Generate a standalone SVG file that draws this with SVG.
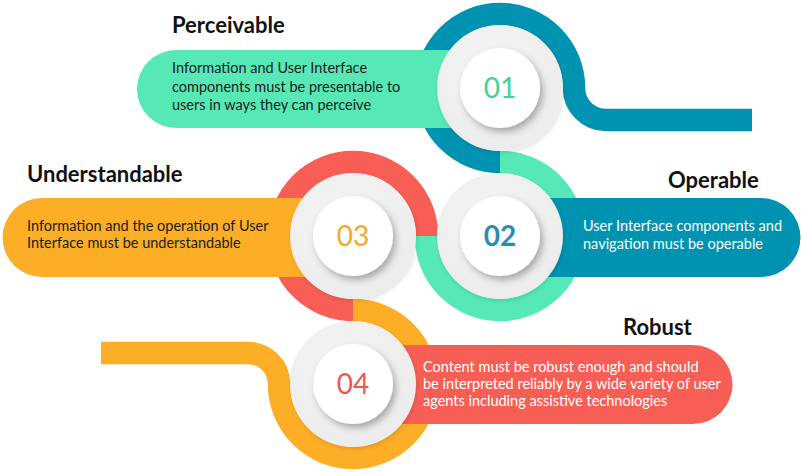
<svg xmlns="http://www.w3.org/2000/svg" width="802" height="474" viewBox="0 0 802 474">
<defs>
<filter id="sh" x="-30%" y="-30%" width="160%" height="160%">
<feDropShadow dx="3" dy="4" stdDeviation="3.5" flood-color="#000" flood-opacity="0.3"/>
</filter>
<filter id="sh2" x="-30%" y="-30%" width="160%" height="160%">
<feDropShadow dx="1" dy="2" stdDeviation="2" flood-color="#000" flood-opacity="0.12"/>
</filter>
<radialGradient id="gg" cx="0.45" cy="0.4" r="0.6">
<stop offset="0" stop-color="#f6f6f6"/>
<stop offset="1" stop-color="#ececec"/>
</radialGradient>
</defs>
<style>
.ring{fill:none;stroke-width:22.5;stroke-linecap:butt}
.outer{fill:url(#gg);filter:url(#sh2)}
.inner{fill:#ffffff;filter:url(#sh)}
.title{font-family:Lato,"Liberation Sans",sans-serif;font-weight:bold;font-size:22px;fill:#111111}
.body{font-family:Lato,"Liberation Sans",sans-serif;font-size:14.5px;fill:#1b1b1b}
.bodyw{font-family:Lato,"Liberation Sans",sans-serif;font-size:14.5px;fill:#ffffff}
.num{font-family:Lato,"Liberation Sans",sans-serif;font-size:28px;text-anchor:middle}
</style>
<rect width="802" height="474" fill="#ffffff"/>
<g id="connectors">
<path class="ring" stroke="#0093b1" d="M500,162 A74,74 0 1 1 574,88 A32,32 0 0 0 606,120 L752,120"/>
<path class="ring" stroke="#56e9b6" d="M500,162 A74,74 0 1 1 426,236"/>
<path class="ring" stroke="#f75f56" d="M427,236 A74,74 0 1 0 353,310"/>
<path class="ring" stroke="#fdae27" d="M353,310 A74,74 0 1 1 279,384 A31,31 0 0 0 248,353 L101,353"/>
</g>
<g id="node01">
<path d="M176,50 L470,50 L470,128 L176,128 A39,39 0 0 1 176,50 Z" fill="#56e9b6"/>
<circle class="outer" cx="500" cy="88" r="63"/>
<circle class="inner" cx="500" cy="88" r="40"/>
<text class="num" x="500" y="98" fill="#3cd39e">01</text>
<text class="title" x="172" y="33">Perceivable</text>
<text class="body" x="172" y="73">Information and User Interface</text>
<text class="body" x="172" y="92">components must be presentable to</text>
<text class="body" x="172" y="110">users in ways they can perceive</text>
</g>
<g id="node02">
<path d="M520,198 L761,198 A39.5,39.5 0 0 1 761,277 L520,277 Z" fill="#0093b1"/>
<circle class="outer" cx="500" cy="236" r="63"/>
<circle class="inner" cx="500" cy="236" r="40"/>
<text class="num" x="500" y="246" fill="#2a8dab" font-weight="bold">02</text>
<text class="title" x="668" y="188">Operable</text>
<text class="bodyw" x="583" y="231">User Interface components and</text>
<text class="bodyw" x="583" y="249">navigation must be operable</text>
</g>
<g id="node03">
<path d="M42,198 L330,198 L330,277 L42,277 A39.5,39.5 0 0 1 42,198 Z" fill="#fdae27"/>
<circle class="outer" cx="353" cy="236" r="63"/>
<circle class="inner" cx="353" cy="236" r="40"/>
<text class="num" x="353" y="246" fill="#f9a825" font-family="'Liberation Sans',Arial,sans-serif">03</text>
<text class="title" x="27" y="182">Understandable</text>
<text class="body" x="27" y="231">Information and the operation of User</text>
<text class="body" x="27" y="248">Interface must be understandable</text>
</g>
<g id="node04">
<path d="M380,345 L693,345 A39.5,39.5 0 0 1 693,424 L380,424 Z" fill="#f75f56"/>
<circle class="outer" cx="353" cy="384" r="63"/>
<circle class="inner" cx="353" cy="384" r="40"/>
<text class="num" x="353" y="394" fill="#f0584f">04</text>
<text class="title" x="623" y="335">Robust</text>
<text class="bodyw" x="423" y="372">Content must be robust enough and should</text>
<text class="bodyw" x="423" y="389">be interpreted reliably by a wide variety of user</text>
<text class="bodyw" x="423" y="406">agents including assistive technologies</text>
</g>
</svg>
